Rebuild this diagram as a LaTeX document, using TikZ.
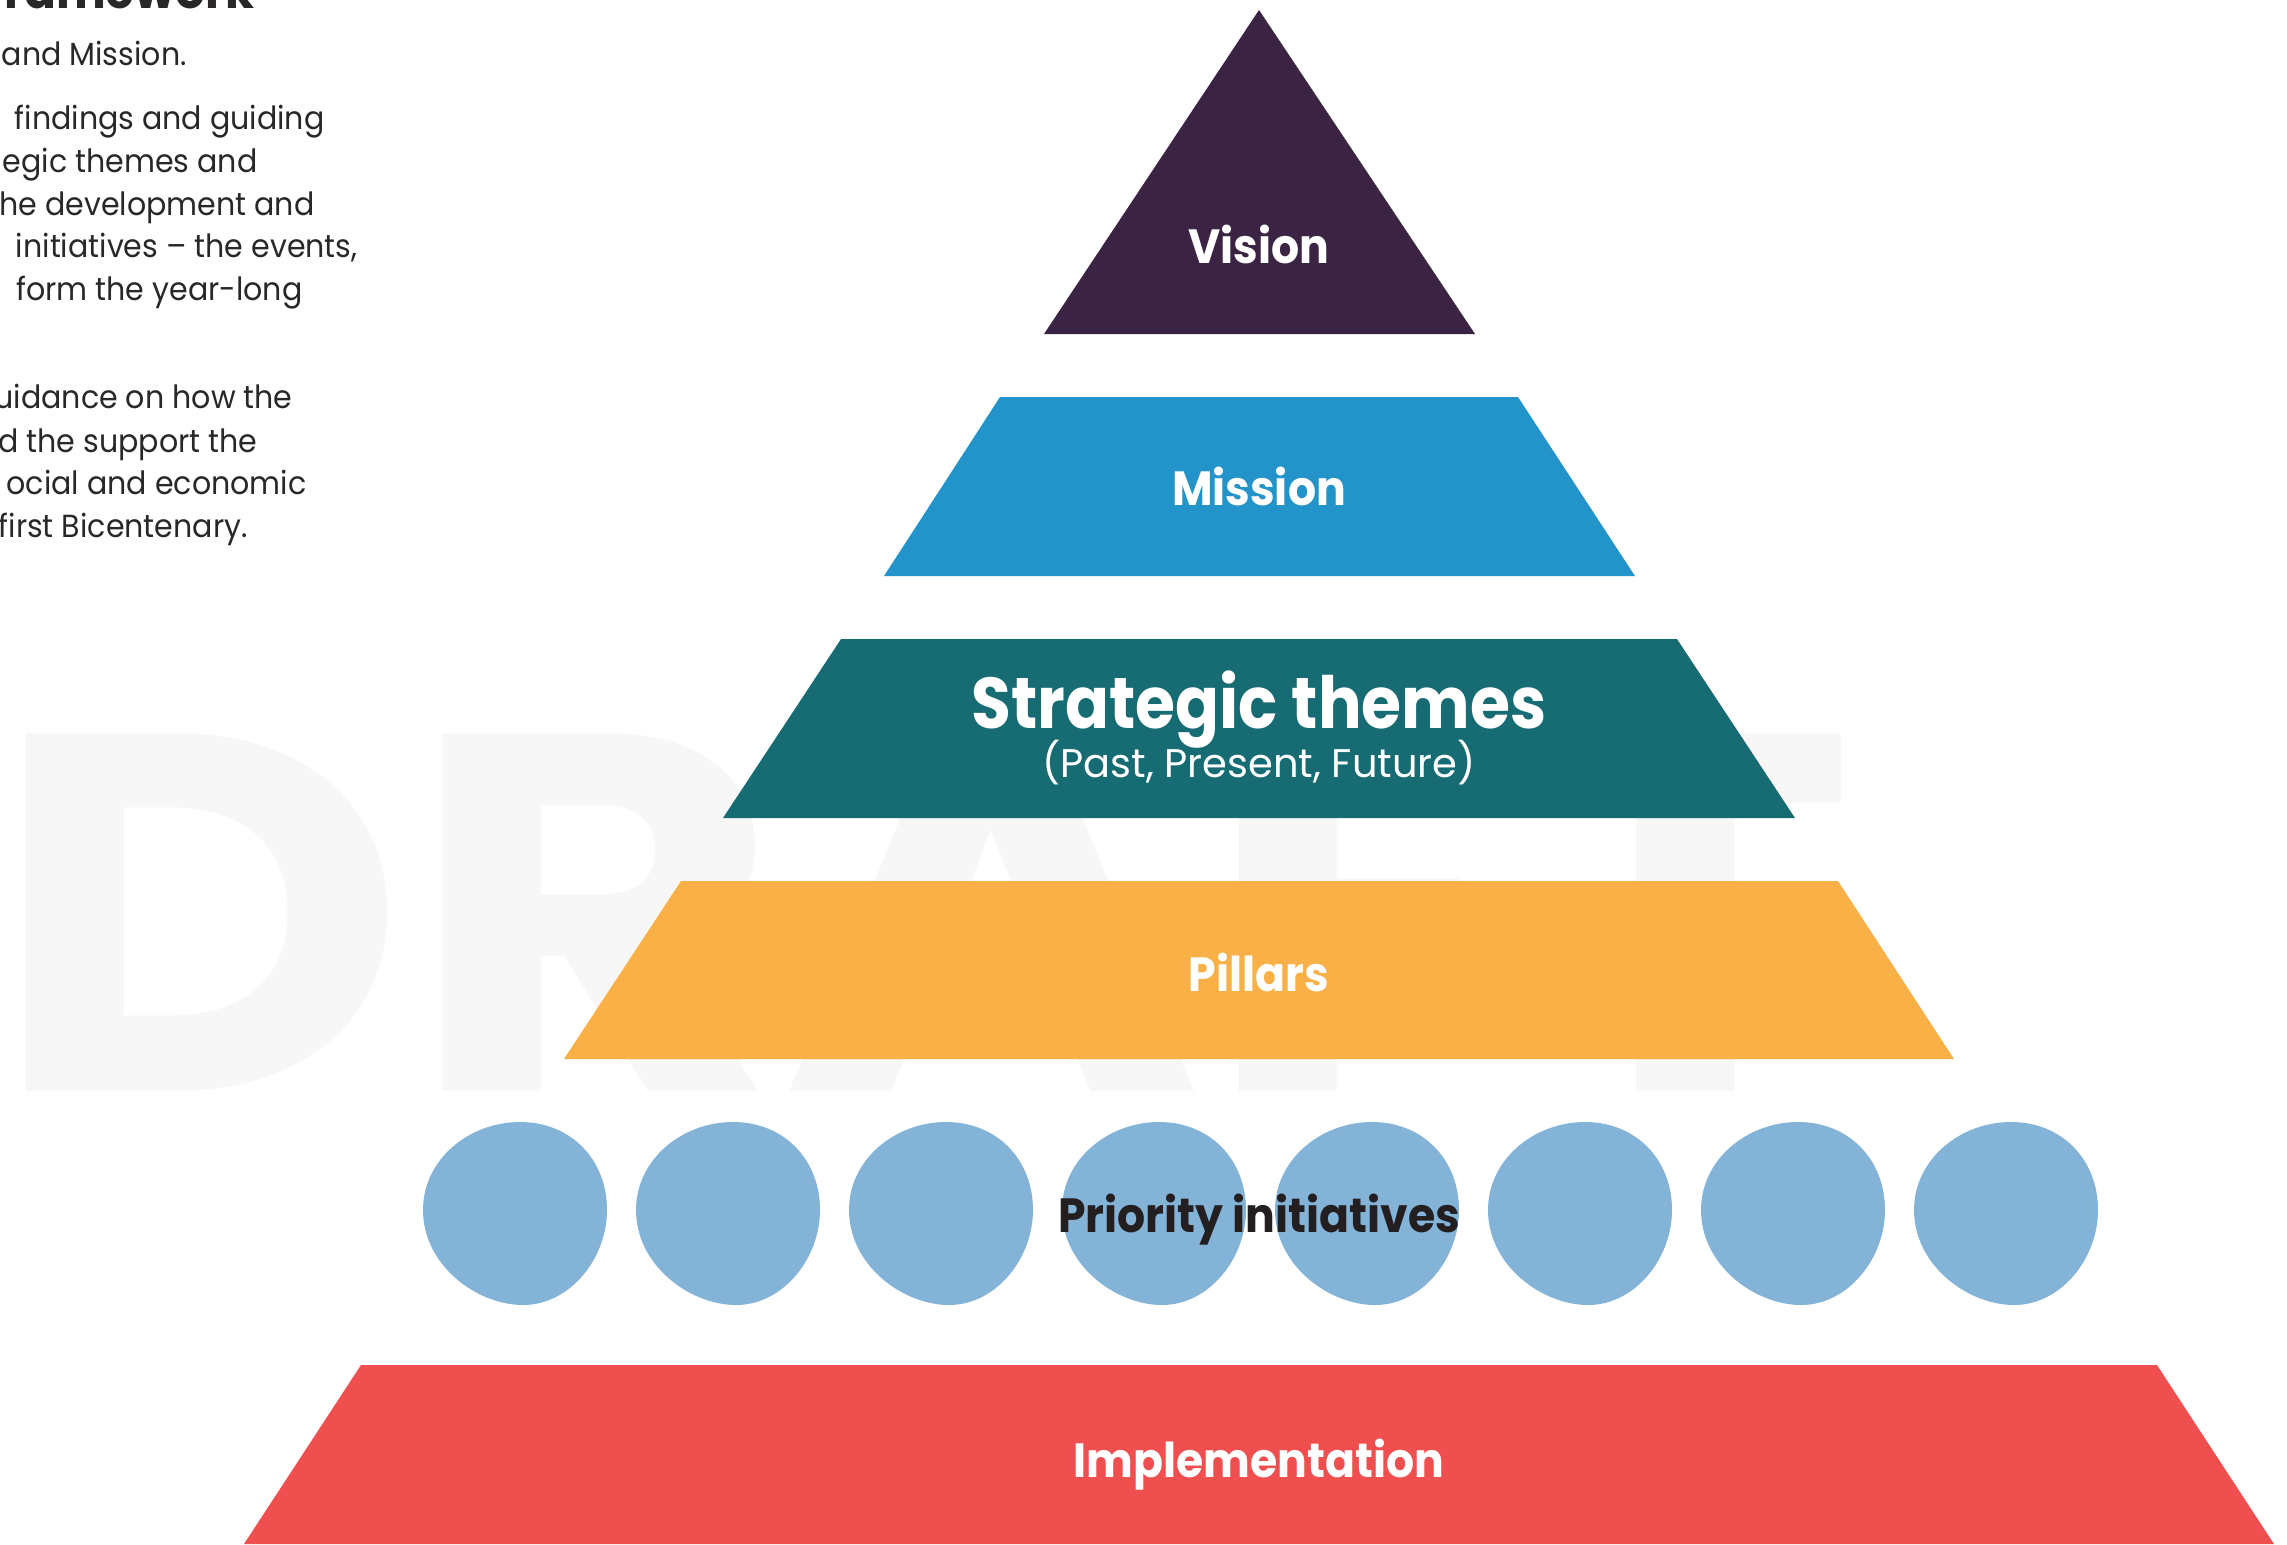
\documentclass[tikz,border=0pt]{standalone}
\usepackage{fontspec}
\setmainfont{Poppins}
\newfontfamily\lblfont{Poppins}[FakeStretch=0.92]
\newfontfamily\bigfont{Poppins}[FakeStretch=0.9]
\newfontfamily\bodyfont{Poppins}[FakeStretch=0.94]
\definecolor{visionc}{HTML}{3B2443}
\definecolor{missionc}{HTML}{2394C9}
\definecolor{themec}{HTML}{176C74}
\definecolor{pillarc}{HTML}{F9B046}
\definecolor{blobc}{HTML}{84B3D8}
\definecolor{implc}{HTML}{EF4F4F}
\definecolor{draftc}{HTML}{F7F7F7}
\definecolor{inkc}{HTML}{231F20}
\definecolor{bodyc}{HTML}{2A2728}
\begin{document}
\begin{tikzpicture}[x=0.5pt,y=-0.5pt,
  lbl/.style={text=white, font=\lblfont\bfseries\fontsize{24}{30}\selectfont, inner sep=0, anchor=base},
  bodyline/.style={text=bodyc, font=\bodyfont\fontsize{16}{20}\selectfont, inner sep=0, anchor=base east},
  blob/.style={fill=blobc}]
\useasboundingbox (0,0) rectangle (2287,1544);
% watermark
\node[text=draftc, font=\bfseries\fontsize{255}{260}\selectfont, inner sep=0, anchor=base, xscale=1.124] (draft) at (923,1091) {DRAFT};
% left text
\node[text=bodyc, font=\bodyfont\bfseries\fontsize{25}{30}\selectfont, inner sep=0, anchor=base east] (heading) at (255,8) {framework};
\node[bodyline] (t1) at (187,65) {and Mission.};
\node[bodyline] (t2) at (325,129) {findings and guiding};
\node[bodyline] (t3) at (258,172) {egic themes and};
\node[bodyline] (t4) at (315,215) {he development and};
\node[bodyline] (t5) at (358,257) {initiatives – the events,};
\node[bodyline] (t6) at (303,300) {form the year-long};
\node[bodyline] (t7) at (293,408) {uidance on how the};
\node[bodyline] (t8) at (258,452) {d the support the};
\node[bodyline] (t9) at (307,494) {ocial and economic};
\node[bodyline] (t10) at (248,537) {first Bicentenary.};
% pyramid
\fill[visionc] (1259,10) -- (1475,334) -- (1044,334) -- cycle;
\fill[missionc] (1000,397) -- (1518,397) -- (1635,576) -- (884,576) -- cycle;
\fill[themec] (841,639) -- (1677,639) -- (1795,818) -- (723,818) -- cycle;
\fill[pillarc] (681,881) -- (1838,881) -- (1954,1059) -- (564,1059) -- cycle;
\fill[implc] (361,1365) -- (2157,1365) -- (2274,1544) -- (244,1544) -- cycle;
\foreach \i in {0,...,7}{
  \fill[blob, shift={(515+213*\i,1213.5)}]
    (5,-91.5) .. controls (56,-91.5) and (92,-54) .. (92,-3.5)
    .. controls (92,45) and (55,91.5) .. (8,91.5)
    .. controls (-38,91.5) and (-92,52) .. (-92,-3.5)
    .. controls (-92,-54) and (-46,-91.5) .. (5,-91.5) -- cycle;
}
% labels
\node[lbl] (vision) at (1259,263) {Vision};
\node[lbl] (mission) at (1259,505) {Mission};
\node[lbl, font=\bigfont\bfseries\fontsize{36}{42}\selectfont] (themes) at (1259,728) {Strategic themes};
\node[lbl, font=\fontsize{20}{24}\selectfont] (themessub) at (1259,777) {(Past, Present, Future)};
\node[lbl] (pillars) at (1259,991) {Pillars};
\node[lbl, text=inkc] (priority) at (1259,1232) {Priority initiatives};
\node[lbl] (impl) at (1259,1477) {Implementation};
\end{tikzpicture}
\end{document}
